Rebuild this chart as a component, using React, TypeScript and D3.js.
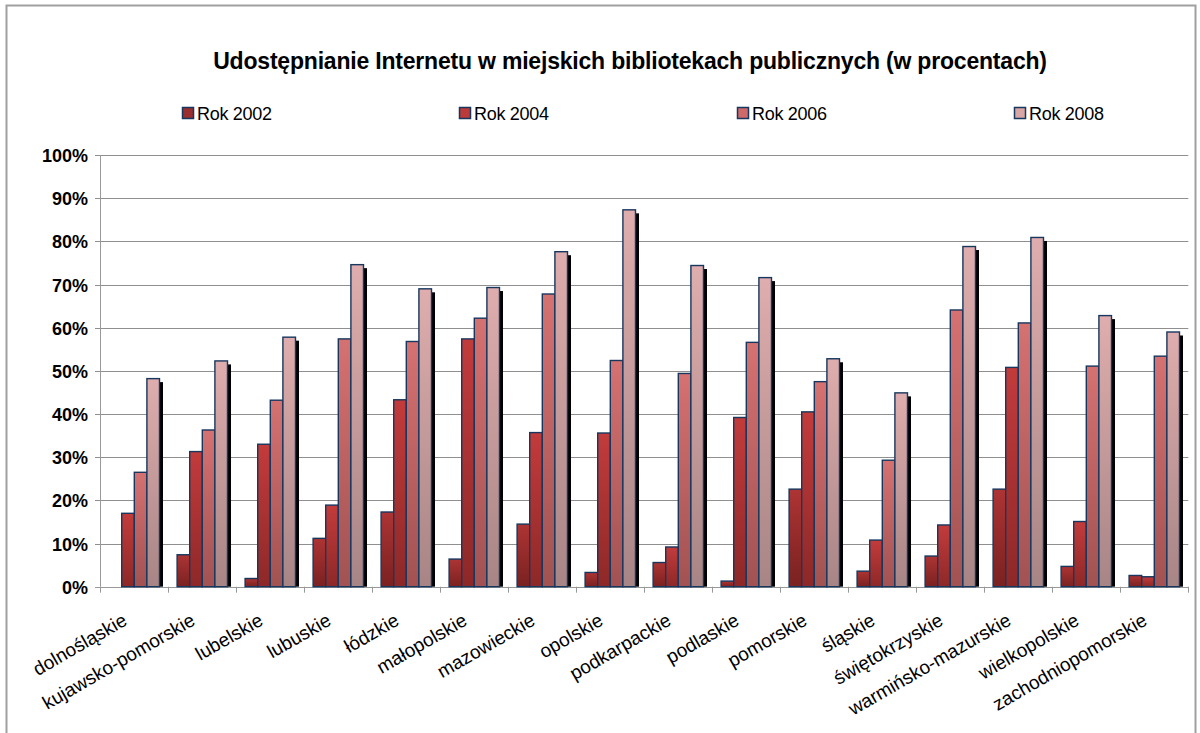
import * as d3 from 'd3';
import React, { useRef, useEffect } from 'react';

// Data (percent)
const categories = [
  'dolnośląskie', 'kujawsko-pomorskie', 'lubelskie', 'lubuskie', 'łódzkie',
  'małopolskie', 'mazowieckie', 'opolskie', 'podkarpackie', 'podlaskie',
  'pomorskie', 'śląskie', 'świętokrzyskie', 'warmińsko-mazurskie',
  'wielkopolskie', 'zachodniopomorskie',
];
const seriesNames = ['Rok 2002', 'Rok 2004', 'Rok 2006', 'Rok 2008'];
const rok2002 = [0, 7.4, 1.9, 11.2, 17.3, 6.4, 14.5, 3.3, 5.6, 1.3, 22.6, 3.6, 7.1, 22.6, 4.7, 2.6];
const rok2004 = [17.0, 31.3, 33.0, 18.9, 43.3, 57.4, 35.7, 35.6, 9.2, 39.2, 40.5, 10.8, 14.3, 50.8, 15.1, 2.3];
const rok2006 = [26.5, 36.3, 43.2, 57.4, 56.8, 62.2, 67.8, 52.4, 49.4, 56.6, 47.5, 29.3, 64.1, 61.1, 51.1, 53.4];
const rok2008 = [48.2, 52.3, 57.8, 74.6, 69.0, 69.3, 77.6, 87.3, 74.4, 71.6, 52.8, 44.9, 78.8, 80.9, 62.8, 59.0];
const yTicks = [0, 10, 20, 30, 40, 50, 60, 70, 80, 90, 100];

const title = 'Udostępnianie Internetu w miejskich bibliotekach publicznych (w procentach)';

// gradient colours, top -> bottom
const gradTop = ['#ad3434', '#c33b3b', '#d57171', '#dfadad'];
const gradBottom = ['#7a2121', '#8d2828', '#a25252', '#a88585'];
const legendFill = ['#9a2e2e', '#bd3a3a', '#cf6a6a', '#d9a6a6'];

const width = 1200;
const height = 733;
const plotLeft = 100.3;
const plotRight = 1188.3;
const plotTop = 155;
const plotBottom = 586.7;
const font = '"Liberation Sans", Arial, sans-serif';

export default function App() {
  const svgRef = useRef(null);

  function drawChart() {
    const svg = d3.select(svgRef.current);
    svg.selectAll('*').remove();

    const data = [rok2002, rok2004, rok2006, rok2008];

    const x = d3.scaleBand()
      .domain(categories)
      .range([plotLeft, plotRight])
      .paddingInner(0.259)
      .paddingOuter(0.1295);
    const x1 = d3.scaleBand()
      .domain(seriesNames)
      .range([0, x.bandwidth()]);
    const y = d3.scaleLinear().domain([0, 100]).range([plotBottom, plotTop]);

    const defs = svg.append('defs');
    seriesNames.forEach((s, i) => {
      const g = defs.append('linearGradient')
        .attr('id', 'grad' + i)
        .attr('x1', 0).attr('y1', 0).attr('x2', 0).attr('y2', 1);
      g.append('stop').attr('offset', '0%').attr('stop-color', gradTop[i]);
      g.append('stop').attr('offset', '100%').attr('stop-color', gradBottom[i]);
    });

    // outer frame
    svg.append('rect')
      .attr('x', 6.5).attr('y', 5.5)
      .attr('width', 1189).attr('height', 760)
      .attr('fill', 'none')
      .attr('stroke', '#a0a0a0')
      .attr('stroke-width', 2);

    // title
    svg.append('text')
      .attr('x', 630).attr('y', 69)
      .attr('text-anchor', 'middle')
      .attr('font-family', font)
      .attr('font-weight', 'bold')
      .attr('font-size', 23)
      .attr('letter-spacing', -0.2)
      .attr('fill', '#000')
      .text(title);

    // legend
    const legendX = [182, 459, 737, 1014];
    seriesNames.forEach((s, i) => {
      svg.append('rect')
        .attr('x', legendX[i] + 0.5).attr('y', 107.5)
        .attr('width', 11).attr('height', 11)
        .attr('fill', legendFill[i])
        .attr('stroke', '#17375e')
        .attr('stroke-width', 1.5);
      svg.append('text')
        .attr('x', legendX[i] + 15).attr('y', 120)
        .attr('font-family', font)
        .attr('font-size', 18)
        .attr('letter-spacing', -0.3)
        .attr('fill', '#000')
        .text(s);
    });

    // gridlines + y axis labels
    yTicks.forEach(t => {
      const yy = Math.round(y(t)) + 0.5;
      svg.append('line')
        .attr('x1', 95).attr('x2', plotRight)
        .attr('y1', yy).attr('y2', yy)
        .attr('stroke', t === 0 ? '#999' : '#8f8f8f')
        .attr('stroke-width', 1);
      svg.append('text')
        .attr('x', 88).attr('y', yy)
        .attr('dy', '0.36em')
        .attr('text-anchor', 'end')
        .attr('font-family', font)
        .attr('font-weight', 'bold')
        .attr('font-size', 18)
        .attr('fill', '#000')
        .text(t + '%');
    });

    // y axis line
    svg.append('line')
      .attr('x1', Math.round(plotLeft) + 0.5).attr('x2', Math.round(plotLeft) + 0.5)
      .attr('y1', plotTop).attr('y2', plotBottom)
      .attr('stroke', '#999');

    // x ticks at band boundaries
    const step = x.step();
    d3.range(categories.length + 1).forEach(i => {
      const xx = Math.round(plotLeft + i * step) + 0.5;
      svg.append('line')
        .attr('x1', xx).attr('x2', xx)
        .attr('y1', plotBottom).attr('y2', plotBottom + 6)
        .attr('stroke', '#999');
    });

    // bars, series by series (shadow first, then bar)
    seriesNames.forEach((s, si) => {
      const g = svg.append('g');
      categories.forEach((c, ci) => {
        const v = data[si][ci];
        if (v <= 0) return;
        const bx = x(c) + x1(s);
        const by = y(v);
        const bh = y(0) - y(v);
        g.append('rect')
          .attr('x', bx + 3.5).attr('y', by + 3.5)
          .attr('width', x1.bandwidth()).attr('height', Math.max(0, bh - 3.5))
          .attr('fill', '#000');
        g.append('rect')
          .attr('x', bx).attr('y', by)
          .attr('width', x1.bandwidth()).attr('height', bh)
          .attr('fill', `url(#grad${si})`)
          .attr('stroke', '#17375e')
          .attr('stroke-width', 1.4);
      });
    });

    // category labels, rotated
    categories.forEach(c => {
      const cx = x(c) + x.bandwidth() / 2 - 6;
      svg.append('text')
        .attr('transform', `translate(${cx},624) rotate(-30)`)
        .attr('text-anchor', 'end')
        .attr('font-family', font)
        .attr('font-size', 19)
        .attr('fill', '#000')
        .text(c);
    });
  }

  useEffect(() => {
    drawChart();
  });

  return (
    <svg ref={svgRef} width={width} height={height}
      style={{ position: 'absolute', left: 0, top: 0, background: '#fff' }} />
  );
}
